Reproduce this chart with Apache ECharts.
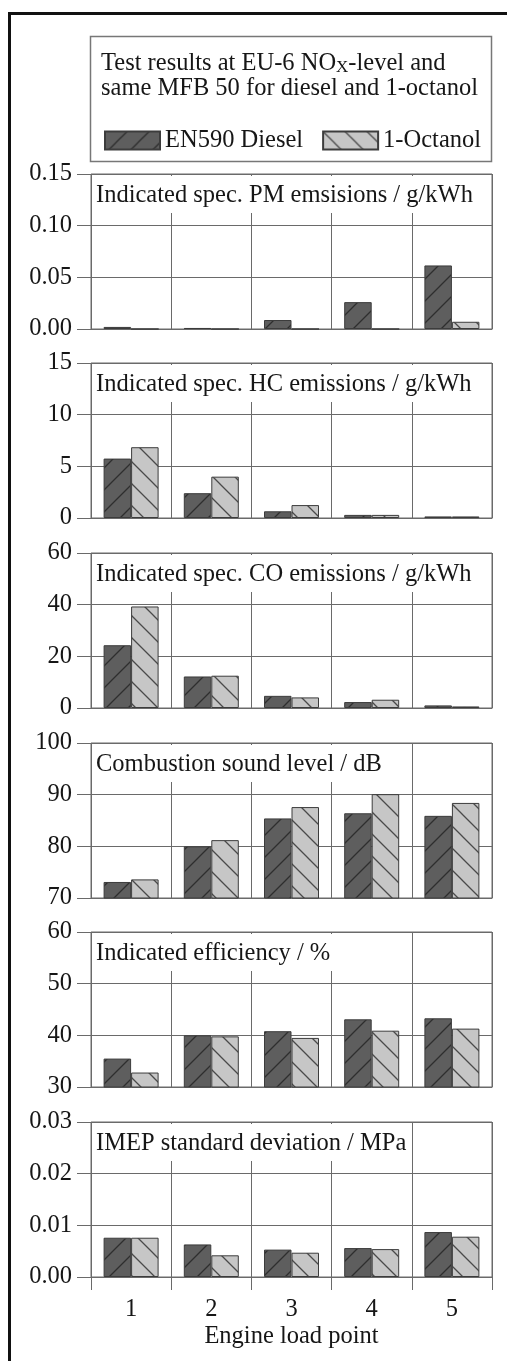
<!DOCTYPE html>
<html>
<head>
<meta charset="utf-8" />
<script src="https://cdn.jsdelivr.net/npm/echarts@6/dist/echarts.min.js"></script>
<style>
  body {
    margin: 0;
    background: #fff;
  }
  #myChart {
    width: 507px;
    height: 1361px;
  }
</style>
</head>
<body>
<div id="myChart"></div>
<script>
// data
const loadPoints = ["1", "2", "3", "4", "5"];
const fuelNames = ["EN590 Diesel", "1-Octanol"];

const pmDiesel = [0.002, 0.001, 0.0087, 0.026, 0.0615];
const pmOctanol = [0, 0, 0, 0, 0.007];
const hcDiesel = [5.75, 2.4, 0.65, 0.3, 0.15];
const hcOctanol = [6.85, 4.0, 1.25, 0.3, 0.15];
const coDiesel = [24.3, 12.2, 4.7, 2.3, 1.0];
const coOctanol = [39.3, 12.5, 4.1, 3.2, 0.6];
const soundDiesel = [73.1, 80.0, 85.4, 86.4, 85.9];
const soundOctanol = [73.6, 81.2, 87.6, 90.1, 88.4];
const effDiesel = [35.5, 40.0, 40.8, 43.1, 43.3];
const effOctanol = [32.8, 39.8, 39.5, 40.9, 41.3];
const imepDiesel = [0.0076, 0.0063, 0.0053, 0.0056, 0.0087];
const imepOctanol = [0.0076, 0.0042, 0.0047, 0.0054, 0.0078];

const panelTitles = [
  "Indicated spec. PM emsisions / g/kWh",
  "Indicated spec. HC emissions / g/kWh",
  "Indicated spec. CO emissions / g/kWh",
  "Combustion sound level / dB",
  "Indicated efficiency / %",
  "IMEP standard deviation / MPa",
];
// [min, max, interval, decimals]
const panelAxes = [
  [0, 0.15, 0.05, 2],
  [0, 15, 5, 0],
  [0, 60, 20, 0],
  [70, 100, 10, 0],
  [30, 60, 10, 0],
  [0, 0.03, 0.01, 2],
];
const panelData = [
  [pmDiesel, pmOctanol],
  [hcDiesel, hcOctanol],
  [coDiesel, coOctanol],
  [soundDiesel, soundOctanol],
  [effDiesel, effOctanol],
  [imepDiesel, imepOctanol],
];

const panelTops = [174, 363, 553, 743, 932, 1122];
const panelHeight = 155;
const font = "'Liberation Serif', 'Times New Roman', serif";
const fontSize = 24.5;
const textColor = "#161616";
const lineColor = "#6a6a6a";

// hatched fill
function hatch(base, line, dir) {
  const s = 22;
  const c = document.createElement("canvas");
  c.width = s;
  c.height = s;
  const g = c.getContext("2d");
  g.fillStyle = base;
  g.fillRect(0, 0, s, s);
  g.strokeStyle = line;
  g.lineWidth = 1.3;
  g.beginPath();
  if (dir > 0) {
    g.moveTo(0, s); g.lineTo(s, 0);
    g.moveTo(-2, 2); g.lineTo(2, -2);
    g.moveTo(s - 2, s + 2); g.lineTo(s + 2, s - 2);
  } else {
    g.moveTo(0, 0); g.lineTo(s, s);
    g.moveTo(-2, s - 2); g.lineTo(2, s + 2);
    g.moveTo(s - 2, -2); g.lineTo(s + 2, 2);
  }
  g.stroke();
  return { image: c, repeat: "repeat" };
}

function generateChartOption() {
  const fills = [hatch("#5e5e5e", "#2e2e2e", 1), hatch("#c6c6c6", "#4a4a4a", -1)];
  const grid = [], xAxis = [], yAxis = [], series = [];
  const title = [
    {
      text: "Test results at EU-6 NO{sub|X}-level and\nsame MFB 50 for diesel and 1-octanol",
      left: 101,
      top: 51,
      padding: 0,
      textStyle: {
        fontFamily: font,
        fontSize: fontSize,
        fontWeight: "normal",
        lineHeight: 25,
        color: textColor,
        rich: {
          sub: { fontFamily: font, fontSize: 17, lineHeight: 14, verticalAlign: "bottom", color: textColor },
        },
      },
    },
  ];

  panelTops.forEach((top, i) => {
    const last = i === panelTops.length - 1;
    const ax = panelAxes[i];
    grid.push({
      left: 91,
      width: 401,
      top: top,
      height: panelHeight,
      show: true,
      borderColor: lineColor,
      borderWidth: 1,
    });
    xAxis.push({
      type: "category",
      gridIndex: i,
      data: loadPoints,
      axisLine: { show: true, lineStyle: { color: lineColor } },
      axisTick: { show: last, length: 13, lineStyle: { color: lineColor } },
      splitLine: { show: true, interval: 0, lineStyle: { color: lineColor } },
      axisLabel: {
        show: last,
        margin: 21,
        fontFamily: font,
        fontSize: fontSize,
        lineHeight: 24,
        color: textColor,
      },
      name: last ? "Engine load point" : "",
      nameLocation: "middle",
      nameGap: 48,
      nameTextStyle: { fontFamily: font, fontSize: fontSize, lineHeight: 24, color: textColor },
    });
    yAxis.push({
      type: "value",
      gridIndex: i,
      min: ax[0],
      max: ax[1],
      interval: ax[2],
      axisLine: { show: false },
      axisTick: { show: true, length: 14, lineStyle: { color: lineColor } },
      splitLine: { show: true, lineStyle: { color: lineColor } },
      axisLabel: {
        margin: 19,
        fontFamily: font,
        fontSize: fontSize,
        color: textColor,
        formatter: (v) => v.toFixed(ax[3]),
      },
    });
    panelData[i].forEach((vals, k) => {
      series.push({
        name: fuelNames[k],
        type: "bar",
        xAxisIndex: i,
        yAxisIndex: i,
        data: vals,
        barWidth: 27.5,
        barGap: "0%",
        itemStyle: { color: fills[k], borderColor: "#3c3c3c", borderWidth: 1 },
      });
    });
    title.push({
      text: panelTitles[i],
      left: 92,
      top: top + 2,
      padding: [7, 2, 4, 4],
      backgroundColor: "#fff",
      textStyle: {
        fontFamily: font,
        fontSize: fontSize,
        fontWeight: "normal",
        lineHeight: 26,
        color: textColor,
      },
    });
  });

  return {
    animation: false,
    backgroundColor: "#fff",
    title: title,
    legend: {
      data: fuelNames,
      left: 104,
      top: 128,
      padding: 0,
      icon: "rect",
      itemWidth: 55,
      itemHeight: 18,
      itemGap: 19,
      textStyle: { fontFamily: font, fontSize: fontSize, lineHeight: 24, color: textColor },
    },
    graphic: [
      // outer frame (left + top) and the legend box
      { type: "rect", shape: { x: 8, y: 12, width: 499, height: 3 }, style: { fill: "#111" } },
      { type: "rect", shape: { x: 8, y: 12, width: 3, height: 1349 }, style: { fill: "#111" } },
      {
        type: "rect",
        shape: { x: 90.5, y: 36.5, width: 401, height: 125 },
        style: { fill: null, stroke: "#777", lineWidth: 1.5 },
      },
    ],
    grid: grid,
    xAxis: xAxis,
    yAxis: yAxis,
    series: series,
  };
}

function draw() {
  const myChart = echarts.init(document.getElementById("myChart"));
  myChart.setOption(generateChartOption());
}

draw();
</script>
</body>
</html>
